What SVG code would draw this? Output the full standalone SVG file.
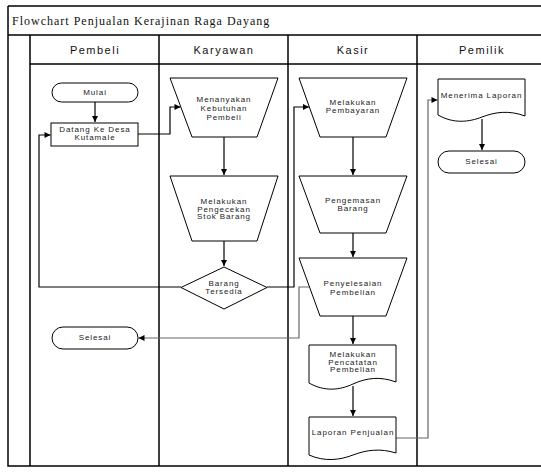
<svg xmlns="http://www.w3.org/2000/svg" width="541" height="475" viewBox="0 0 541 475">
<style>
.frame{fill:none;stroke:#000;stroke-width:1.5}
.shape{fill:#fff;stroke:#000;stroke-width:1}
.t{font-family:"Liberation Sans",Arial,sans-serif;font-size:8px;letter-spacing:0.9px;fill:#222;text-anchor:middle}
.h{font-family:"Liberation Sans",Arial,sans-serif;font-size:11px;letter-spacing:1.5px;fill:#111;text-anchor:middle}
.title{font-family:"Liberation Serif","Times New Roman",serif;font-size:12px;letter-spacing:1px;fill:#111}
.c{fill:none;stroke:#000;stroke-width:1.2}
.g{fill:none;stroke:#666;stroke-width:1.2}
</style>
<defs>
<marker id="a" viewBox="0 0 10 10" refX="10" refY="5" markerWidth="7" markerHeight="6" markerUnits="userSpaceOnUse" orient="auto">
<path d="M0,0 L10,5 L0,10 Z" fill="#000"/>
</marker>
</defs>
<rect width="541" height="475" fill="#fff"/>
<g id="pool">
<path class="frame" d="M8,6 H545 M8,6 V466 H545 M8,35 H545 M30,64 H545 M30,35 V466 M159,35 V466 M288,35 V466 M417,35 V466"/>
<text class="title" x="12" y="25">Flowchart Penjualan Kerajinan Raga Dayang</text>
<text class="h" x="95" y="54">Pembeli</text>
<text class="h" x="224" y="54">Karyawan</text>
<text class="h" x="353" y="54">Kasir</text>
<text class="h" x="482" y="54">Pemilik</text>
</g>
<g id="connectors">
<path class="c" d="M95,102 V122" marker-end="url(#a)"/>
<path class="c" d="M138,134 H170 V107 H180.5" marker-end="url(#a)"/>
<path class="c" d="M224,137 V175" marker-end="url(#a)"/>
<path class="c" d="M224,241 V266" marker-end="url(#a)"/>
<path class="c" d="M181,287 H39 V135 H50.5" marker-end="url(#a)"/>
<path class="c" d="M267,287 H294 V107 H309" marker-end="url(#a)"/>
<path class="c" d="M353,137 V175" marker-end="url(#a)"/>
<path class="c" d="M353,233 V257" marker-end="url(#a)"/>
<path class="g" d="M309.5,287 H299 V338 H138.5" marker-end="url(#a)"/>
<path class="c" d="M353,316 V344" marker-end="url(#a)"/>
<path class="c" d="M353,386 V416" marker-end="url(#a)"/>
<path class="g" d="M396,438 H428 V100 H437.5" marker-end="url(#a)"/>
<path class="c" d="M482,119 V150" marker-end="url(#a)"/>
</g>
<g id="mulai">
<rect class="shape" x="52" y="83" width="86" height="19" rx="9.5"/>
<text class="t" x="95" y="95">Mulai</text>
</g>
<g id="datang">
<rect class="shape" x="51" y="123" width="87" height="23"/>
<text class="t" x="95" y="132">Datang Ke Desa</text>
<text class="t" x="95" y="140">Kutamale</text>
</g>
<g id="menanyakan">
<path class="shape" d="M170,78 H278 L257,137 H192 Z"/>
<text class="t" x="224" y="102">Menanyakan</text>
<text class="t" x="224" y="111">Kebutuhan</text>
<text class="t" x="224" y="120">Pembeli</text>
</g>
<g id="pengecekan">
<path class="shape" d="M170,176 H278 L257,241 H192 Z"/>
<text class="t" x="224" y="204">Melakukan</text>
<text class="t" x="224" y="211.5">Pengecekan</text>
<text class="t" x="224" y="219">Stok Barang</text>
</g>
<g id="barang-tersedia">
<path class="shape" d="M224,267 L267,287.5 L224,309 L181,287.5 Z"/>
<text class="t" x="224" y="286">Barang</text>
<text class="t" x="224" y="294">Tersedia</text>
</g>
<g id="selesai-pembeli">
<rect class="shape" x="52" y="327" width="86" height="22" rx="11"/>
<text class="t" x="95" y="340">Selesai</text>
</g>
<g id="pembayaran">
<path class="shape" d="M299,78 H407 L386,137 H320 Z"/>
<text class="t" x="353" y="105">Melakukan</text>
<text class="t" x="353" y="113">Pembayaran</text>
</g>
<g id="pengemasan">
<path class="shape" d="M299,176 H407 L386,233 H320 Z"/>
<text class="t" x="353" y="203">Pengemasan</text>
<text class="t" x="353" y="211">Barang</text>
</g>
<g id="penyelesaian">
<path class="shape" d="M299,258 H407 L386,316 H320 Z"/>
<text class="t" x="353" y="286">Penyelesaian</text>
<text class="t" x="353" y="294.5">Pembelian</text>
</g>
<g id="pencatatan">
<path class="shape" d="M309,345 H396 V382 C380,376 366,378 353,384 C340,390 325,392 309,383 Z"/>
<text class="t" x="353" y="357">Melakukan</text>
<text class="t" x="353" y="364.5">Pencatatan</text>
<text class="t" x="353" y="372">Pembelian</text>
</g>
<g id="laporan">
<path class="shape" d="M309,417 H396 V453 C380,448 366,450 353,455 C340,460 325,462 309,455 Z"/>
<text class="t" x="353" y="435">Laporan Penjualan</text>
</g>
<g id="menerima">
<path class="shape" d="M438,79 H525 V116 C509,110 495,112 482,117 C469,122 454,124 438,115 Z"/>
<text class="t" x="481.5" y="98">Menerima Laporan</text>
</g>
<g id="selesai-pemilik">
<rect class="shape" x="438" y="151" width="87" height="22" rx="11"/>
<text class="t" x="481.5" y="164">Selesai</text>
</g>
</svg>
